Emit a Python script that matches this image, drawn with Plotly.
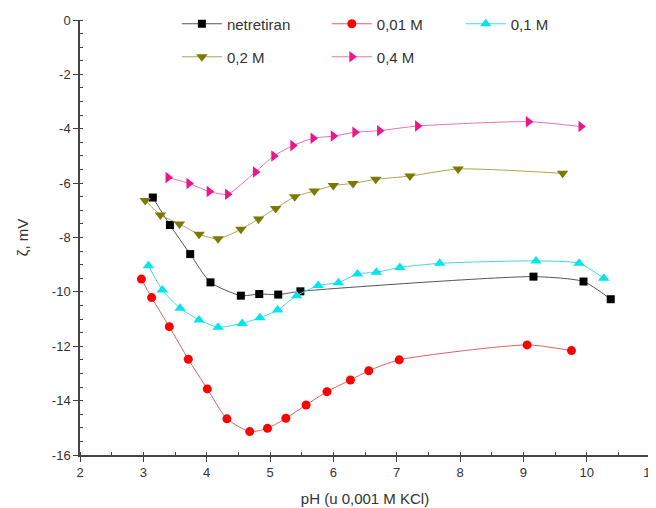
import plotly.graph_objects as go

# Data
ph_net = [3.15, 3.42, 3.74, 4.06, 4.54, 4.83, 5.13, 5.48, 9.16, 9.95, 10.38]
z_net = [-6.53, -7.54, -8.61, -9.65, -10.14, -10.08, -10.10, -9.98, -9.44, -9.62, -10.27]

ph_001 = [2.97, 3.13, 3.41, 3.71, 4.01, 4.32, 4.68, 4.96, 5.25, 5.57, 5.90, 6.27, 6.56, 7.04, 9.06, 9.76]
z_001 = [-9.53, -10.21, -11.28, -12.48, -13.57, -14.67, -15.14, -15.02, -14.65, -14.16, -13.67,
         -13.24, -12.90, -12.50, -11.95, -12.16]

ph_01 = [3.08, 3.30, 3.58, 3.88, 4.18, 4.56, 4.84, 5.12, 5.42, 5.76, 6.08, 6.38, 6.68, 7.05, 7.68, 9.20, 9.88, 10.27]
z_01 = [-9.04, -9.93, -10.60, -11.03, -11.30, -11.16, -10.95, -10.67, -10.14, -9.77, -9.66,
        -9.34, -9.28, -9.10, -8.95, -8.86, -8.95, -9.50]

ph_02 = [3.03, 3.27, 3.57, 3.88, 4.18, 4.54, 4.82, 5.09, 5.39, 5.70, 6.00, 6.31, 6.67, 7.21, 7.97, 9.62]
z_02 = [-6.64, -7.17, -7.50, -7.88, -8.05, -7.70, -7.32, -6.93, -6.50, -6.29, -6.09, -6.01,
        -5.86, -5.74, -5.48, -5.64]

ph_04 = [3.39, 3.72, 4.04, 4.33, 4.77, 5.06, 5.36, 5.68, 6.00, 6.34, 6.73, 7.33, 9.08, 9.91]
z_04 = [-5.79, -6.01, -6.31, -6.41, -5.59, -5.00, -4.62, -4.35, -4.27, -4.13, -4.07, -3.90, -3.74, -3.92]

x_tickvals = [2, 3, 4, 5, 6, 7, 8, 9, 10, 11]
x_ticktext = ["2", "3", "4", "5", "6", "7", "8", "9", "10", "11"]
y_tickvals = [-16, -14, -12, -10, -8, -6, -4, -2, 0]
y_ticktext = ["-16", "-14", "-12", "-10", "-8", "-6", "-4", "-2", "0"]

series = [
    ("netretiran", ph_net, z_net, "#000000", "#555555", "square", 8, "legend", 0.170, 0.968),
    ("0,01 M", ph_001, z_001, "#ff0000", "#e06060", "circle", 9, "legend2", 0.433, 0.968),
    ("0,1 M", ph_01, z_01, "#00e5ee", "#40d8e0", "triangle-up", 10, "legend3", 0.668, 0.968),
    ("0,2 M", ph_02, z_02, "#7a7a00", "#a8a850", "triangle-down", 10, "legend4", 0.170, 0.902),
    ("0,4 M", ph_04, z_04, "#f0148c", "#f070b0", "triangle-right", 10, "legend5", 0.433, 0.902),
]

fig = go.Figure()
legends = {}
for name, xs, ys, mcol, lcol, sym, sz, leg, lx, ly in series:
    fig.add_trace(go.Scatter(
        x=xs, y=ys, name=name, mode="lines+markers", legend=leg,
        line=dict(color=lcol, width=1, shape="spline", smoothing=0.6),
        marker=dict(color=mcol, symbol=sym, size=sz, line=dict(width=0)),
    ))
    legends[leg] = dict(
        x=lx, y=ly, xanchor="left", yanchor="middle", orientation="h",
        yref="container",
        font=dict(size=15, color="#333333"), bgcolor="rgba(0,0,0,0)",
        itemwidth=40, borderwidth=0,
    )

font_family = "Liberation Sans, Arial, sans-serif"
fig.update_layout(
    width=648, height=500,
    margin=dict(l=72, r=6, t=12, b=53, autoexpand=False),
    paper_bgcolor="white", plot_bgcolor="white",
    font=dict(family=font_family, color="#333333", size=13),
    showlegend=True,
    **legends,
    xaxis=dict(
        range=[2, 11], tickvals=x_tickvals, ticktext=x_ticktext,
        showgrid=False, zeroline=False, automargin=False,
        ticklabeloverflow="allow",
        showline=True, linecolor="#444444", linewidth=1.5,
        ticks="outside", ticklen=5, tickcolor="#444444",
        minor=dict(ticks="inside", ticklen=3, dtick=0.5, tickcolor="#444444"),
        tickfont=dict(size=13, color="#333333"),
        title=dict(text="pH (u 0,001 M KCl)", font=dict(size=15, color="#333333"), standoff=14),
    ),
    yaxis=dict(
        range=[-16, 0], tickvals=y_tickvals, ticktext=y_ticktext,
        showgrid=False, zeroline=False, automargin=False,
        showline=True, linecolor="#444444", linewidth=1.5,
        ticks="outside", ticklen=5, tickcolor="#444444",
        minor=dict(ticks="inside", ticklen=3, dtick=0.5, tickcolor="#444444"),
        tickfont=dict(size=13, color="#333333"),
        title=dict(text="ζ, mV", font=dict(size=15, color="#333333"), standoff=20),
    ),
)

fig.write_html("out.html")
